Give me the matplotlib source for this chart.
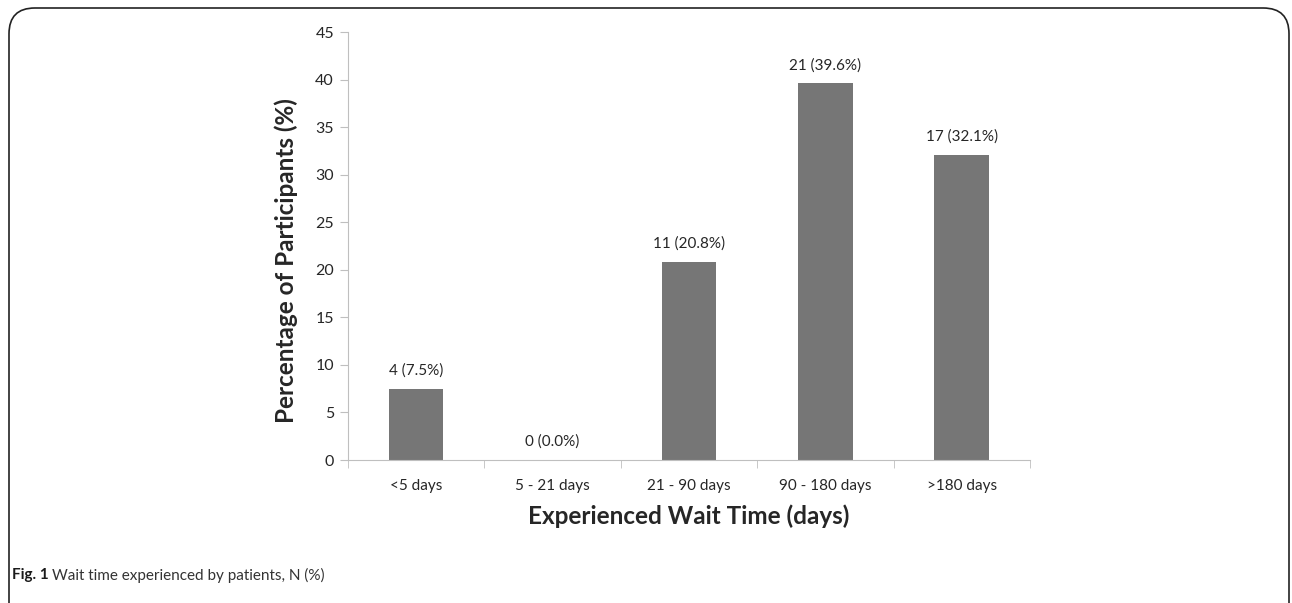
import matplotlib.pyplot as plt
from matplotlib.patches import FancyBboxPatch

# Dados
categorias = ["<5 days", "5 - 21 days", "21 - 90 days", "90 - 180 days", ">180 days"]
percentuais = [7.5, 0.0, 20.8, 39.6, 32.1]
contagens = [4, 0, 11, 21, 17]

plt.rcParams["font.family"] = ["Lato", "DejaVu Sans"]

fig = plt.figure(figsize=(12.92, 6.03), dpi=100)
ax = fig.add_axes([0.2693, 0.2371, 0.5279, 0.7098])

pos = list(range(len(categorias)))
ax.bar(pos, percentuais, width=0.4, color="#767676")

for x, p, n in zip(pos, percentuais, contagens):
    ax.annotate(f"{n} ({p:.1f}%)", (x, p), xytext=(0, 8), textcoords="offset points",
                ha="center", va="bottom", fontsize=11, color="#262626")

ax.set_xlim(-0.5, len(categorias) - 0.5)
ax.set_ylim(0, 45)
ax.set_yticks(range(0, 46, 5))
ax.set_xticks(pos)
ax.set_xticklabels(categorias)
ax.set_xticks([i - 0.5 for i in range(len(categorias) + 1)], minor=True)
ax.tick_params(axis="x", which="major", length=0, pad=14, labelsize=11, labelcolor="#262626")
ax.tick_params(axis="x", which="minor", length=6, color="#bfbfbf", direction="out")
ax.tick_params(axis="y", length=6, color="#bfbfbf", labelsize=11.5, labelcolor="#262626", pad=4)

for spine in ["top", "right"]:
    ax.spines[spine].set_visible(False)
for spine in ["left", "bottom"]:
    ax.spines[spine].set_color("#bfbfbf")

ax.set_ylabel("Percentage of Participants (%)", fontsize=17.5, weight="bold", color="#262626")
ax.yaxis.set_label_coords(-0.073, 0.467)
ax.set_xlabel("Experienced Wait Time (days)", fontsize=17.5, weight="bold", color="#262626", labelpad=8)

# Moldura e legenda da figura
moldura = FancyBboxPatch((9 / 1292, -0.05), 1 - 12 / 1292, 1 - 8 / 603 + 0.05,
                         boxstyle="round,pad=0,rounding_size=0.02",
                         transform=fig.transFigure, fill=False, edgecolor="#222222",
                         linewidth=1.2, mutation_aspect=1292 / 603)
fig.patches.append(moldura)

fig.text(12 / 1292, 1 - 575 / 603, "Fig. 1", fontsize=11, weight="bold", va="center", color="#1a1a1a")
fig.text(52 / 1292, 1 - 575 / 603, "Wait time experienced by patients, N (%)", fontsize=11,
         va="center", color="#333333")

plt.savefig("out.png", dpi=100)
